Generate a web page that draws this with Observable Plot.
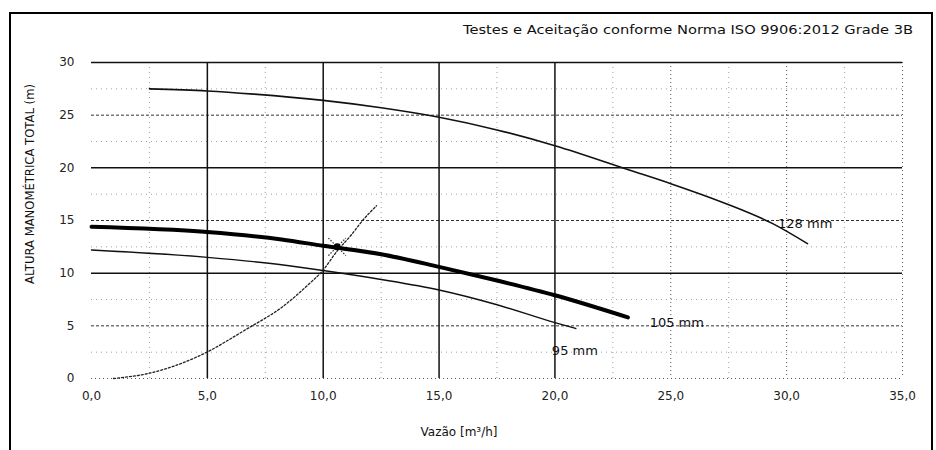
<!DOCTYPE html>
<html><head><meta charset="utf-8">
<script src="https://cdn.jsdelivr.net/npm/d3@7"></script>
<script src="https://cdn.jsdelivr.net/npm/@observablehq/plot@0.6"></script>
<style>
body{margin:0;background:#fff}
#chart{position:relative;width:936px;height:450px;overflow:hidden;background:#fff}
</style>
</head><body><div id="chart"></div>
<script>
// ---- data ----
const titleText = "Testes e Aceitação conforme Norma ISO 9906:2012 Grade 3B";
const xLabel = "Vazão [m³/h]";
const yLabel = "ALTURA MANOMÉTRICA TOTAL (m)";

const xTicks = [0, 5, 10, 15, 20, 25, 30, 35];
const yTicks = [0, 5, 10, 15, 20, 25, 30];
const solidX = [5, 10, 15, 20];
const dottedX = [25, 30, 35];
const solidY = [10, 20, 30];
const dashedY = [5, 15, 25];
const bottomY = [0];
const minorX = [2.5, 7.5, 12.5, 17.5, 22.5, 27.5, 32.5];
const minorY = [2.5, 7.5, 12.5, 17.5, 22.5, 27.5];

const q128 = [2.5, 5.0, 7.0, 10.0, 12.5, 15.0, 17.5, 20.0, 23.2, 25.0, 27.5, 29.4, 30.9];
const h128 = [27.5, 27.3, 27.0, 26.4, 25.7, 24.8, 23.6, 22.1, 19.8, 18.5, 16.5, 14.7, 12.8];

const q105 = [0, 5, 8.2, 10, 12.5, 15, 17.5, 20, 23.15];
const h105 = [14.4, 13.9, 13.2, 12.6, 11.8, 10.6, 9.3, 7.9, 5.8];

const q95 = [0, 5, 8.2, 10, 12.5, 15, 17.5, 20, 20.9];
const h95 = [12.2, 11.5, 10.8, 10.25, 9.4, 8.4, 7.0, 5.3, 4.75];

const qSys = [0.95, 2.5, 4.7, 6.7, 8.3, 9.3, 10.0, 10.6, 11.2, 11.7, 12.3];
const hSys = [0, 0.5, 2.2, 4.7, 6.9, 8.8, 10.3, 12.1, 13.6, 15.0, 16.4];

const opPoint = {q: 10.6, h: 12.5};

const curveLabels = ["128 mm", "105 mm", "95 mm"];
const labelQ = [30.8, 25.26, 20.86];
const labelH = [14.7, 5.3, 2.66];

// ---- build tables ----
const zip = (xs, ys) => xs.map((x, i) => ({x, y: ys[i]}));
const d128 = zip(q128, h128);
const d105 = zip(q105, h105);
const d95 = zip(q95, h95);
const dSys = zip(qSys, hSys);
const dLabels = curveLabels.map((t, i) => ({t, x: labelQ[i], y: labelH[i]}));

const fmt = d => d.toFixed(1).replace(".", ",");

const plot = Plot.plot({
  width: 936, height: 450,
  marginLeft: 91, marginRight: 34, marginTop: 62, marginBottom: 72,
  style: {fontFamily: "DejaVu Sans", fontSize: "12px", color: "#222", background: "#fff"},
  x: {domain: [0, 35], label: null},
  y: {domain: [0, 30], label: null},
  marks: [
    Plot.ruleX(minorX, {stroke: "#888", strokeWidth: 0.8, strokeDasharray: "1,4"}),
    Plot.ruleY(minorY, {stroke: "#888", strokeWidth: 0.8, strokeDasharray: "1,4"}),
    Plot.ruleY(dashedY, {stroke: "#333", strokeWidth: 1, strokeDasharray: "3,2"}),
    Plot.ruleY(bottomY, {stroke: "#555", strokeWidth: 1, strokeDasharray: "1,3"}),
    Plot.ruleX(dottedX, {stroke: "#555", strokeWidth: 1, strokeDasharray: "1,3"}),
    Plot.ruleX(solidX, {stroke: "#111", strokeWidth: 1.5}),
    Plot.ruleY(solidY, {stroke: "#111", strokeWidth: 1.5}),
    Plot.axisX({ticks: xTicks, tickFormat: fmt, tickSize: 0, tickPadding: 13, fontSize: 12, label: null}),
    Plot.axisY({ticks: yTicks, tickSize: 0, tickPadding: 17, fontSize: 12, label: null}),
    Plot.line(dSys, {x: "x", y: "y", curve: "monotone-x", stroke: "#222", strokeWidth: 1.3, strokeDasharray: "2,2"}),
    Plot.line(d95, {x: "x", y: "y", curve: "monotone-x", stroke: "#111", strokeWidth: 1.4}),
    Plot.line(d128, {x: "x", y: "y", curve: "monotone-x", stroke: "#111", strokeWidth: 1.6}),
    Plot.line(d105, {x: "x", y: "y", curve: "monotone-x", stroke: "#000", strokeWidth: 4}),
    Plot.dot([opPoint], {x: "q", y: "h", symbol: "times", r: 8, stroke: "#333", strokeWidth: 1.2, strokeDasharray: "1.5,1.5"}),
    Plot.dot([opPoint], {x: "q", y: "h", r: 3.5, fill: "#000"}),
    Plot.text(dLabels, {x: "x", y: "y", text: "t", fontSize: 13, fill: "#111", textAnchor: "middle"})
  ]
});

document.getElementById("chart").appendChild(plot);
const svg = d3.select(plot);
svg.style("overflow", "visible");

// outer border of the scanned frame
svg.append("rect")
  .attr("x", 10).attr("y", 13).attr("width", 922).attr("height", 460)
  .attr("fill", "none").attr("stroke", "#000").attr("stroke-width", 2);

svg.append("text")
  .attr("x", 913).attr("y", 30)
  .attr("text-anchor", "end").attr("dominant-baseline", "middle")
  .attr("font-family", "DejaVu Sans").attr("font-size", 13).attr("fill", "#111")
  .attr("textLength", 450).attr("lengthAdjust", "spacingAndGlyphs")
  .text(titleText);

svg.append("text")
  .attr("transform", "translate(30,184) rotate(-90)")
  .attr("text-anchor", "middle").attr("dominant-baseline", "middle")
  .attr("font-family", "DejaVu Sans").attr("font-size", 12).attr("fill", "#111")
  .attr("textLength", 200).attr("lengthAdjust", "spacingAndGlyphs")
  .text(yLabel);

svg.append("text")
  .attr("x", 459).attr("y", 432)
  .attr("text-anchor", "middle").attr("dominant-baseline", "middle")
  .attr("font-family", "DejaVu Sans").attr("font-size", 12).attr("fill", "#111")
  .text(xLabel);
</script>
</body></html>
